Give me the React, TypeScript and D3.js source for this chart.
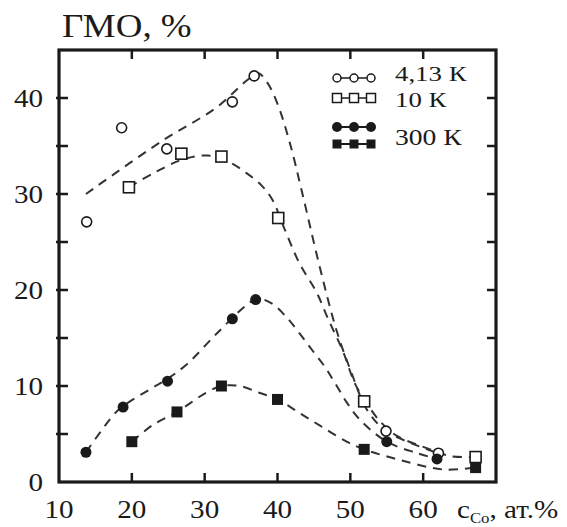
import React from "react";
import * as d3 from "d3";

const W = 567;
const H = 527;

// measured points
const xOpenCircle = [13.8, 18.6, 24.8, 33.8, 36.8, 54.9, 62.1];
const yOpenCircle = [27.1, 36.9, 34.7, 39.6, 42.3, 5.3, 3.0];
const xOpenSquare = [19.6, 26.8, 32.3, 40.1, 51.9, 67.2];
const yOpenSquare = [30.7, 34.2, 33.9, 27.5, 8.4, 2.6];
const xFilledCircle = [13.7, 18.8, 24.9, 33.8, 37.0, 55.0, 61.9];
const yFilledCircle = [3.1, 7.8, 10.5, 17.0, 19.0, 4.2, 2.4];
const xFilledSquare = [20.0, 26.2, 32.3, 40.0, 51.9, 67.2];
const yFilledSquare = [4.2, 7.3, 10.0, 8.6, 3.4, 1.5];

// dashed guide curves
const fit413x = [13.7, 24.1, 31.6, 35.9, 37.3, 38.6, 40.0, 41.7, 43.4, 45.8, 48.1, 50.0, 52.3, 54.9, 58.5, 62.0];
const fit413y = [30.0, 35.5, 39.0, 41.9, 42.6, 41.6, 39.4, 35.3, 30.1, 22.4, 15.8, 11.7, 7.5, 5.3, 4.0, 3.0];
const fit10x = [19.6, 23.3, 27.0, 30.5, 33.4, 35.7, 37.8, 39.3, 41.0, 43.0, 45.4, 47.0, 49.0, 50.6, 51.9, 54.1, 56.4, 60.6, 63.7, 67.2];
const fit10y = [30.7, 32.3, 33.6, 34.0, 33.3, 32.2, 30.9, 29.4, 26.3, 22.8, 19.7, 16.9, 13.6, 10.3, 8.6, 6.3, 4.8, 3.5, 2.7, 2.6];
const fit300cx = [13.7, 17.5, 18.8, 22.8, 24.8, 27.6, 31.7, 35.7, 37.2, 39.2, 41.2, 43.0, 44.8, 46.5, 47.9, 49.5, 51.3, 55.0, 59.2, 61.9];
const fit300cy = [3.1, 7.0, 7.9, 9.8, 10.7, 12.3, 15.5, 18.4, 19.1, 18.6, 17.2, 15.5, 13.7, 12.0, 10.3, 8.3, 6.5, 4.2, 3.0, 2.4];
const fit300sx = [20.0, 22.8, 26.2, 30.2, 32.3, 34.8, 37.5, 40.0, 43.0, 46.2, 49.5, 51.9, 56.8, 62.8, 67.2];
const fit300sy = [4.2, 5.9, 7.3, 9.3, 10.0, 10.0, 9.3, 8.6, 7.2, 5.7, 4.2, 3.4, 2.3, 1.3, 1.5];

const xTickLabels = [10, 20, 30, 40, 50, 60];
const xTicks = [20, 30, 40, 50, 60];
const yTickLabels = [0, 10, 20, 30, 40];
const yTicks = [5, 10, 15, 20, 25, 30, 35, 40];

const legendLabels = ["4,13 К", "10 К", "300 К"];

const FONT = "'Liberation Serif', 'Times New Roman', serif";
const INK = "#1a1a1a";
const SX = 1.12;

function T(props: { x: number; y: number; size: number; sx?: number; anchor?: string; dy?: string; children: React.ReactNode }) {
  return (
    <text
      transform={`translate(${props.x},${props.y}) scale(${props.sx || SX},1)`}
      dy={props.dy}
      textAnchor={props.anchor || "start"}
      fontFamily={FONT}
      fontSize={props.size}
      fill={INK}
    >
      {props.children}
    </text>
  );
}

export default function App() {
  const x = d3.scaleLinear().domain([10, 70]).range([59, 496]);
  const y = d3.scaleLinear().domain([0, 45]).range([482, 50]);
  const line = d3
    .line<[number, number]>()
    .x((d) => x(d[0]))
    .y((d) => y(d[1]))
    .curve(d3.curveCatmullRom.alpha(0.5));
  const zip = (a: number[], b: number[]) => a.map((v, i) => [v, b[i]] as [number, number]);

  const fits = [
    zip(fit413x, fit413y),
    zip(fit10x, fit10y),
    zip(fit300cx, fit300cy),
    zip(fit300sx, fit300sy),
  ];

  const x0 = x(10), x1 = x(70), y0 = y(0), y1 = y(45);

  return (
    <svg width={W} height={H} style={{ position: "absolute", left: 0, top: 0, background: "#fff" }}>
      {fits.map((f, i) => (
        <path key={i} d={line(f) || ""} fill="none" stroke="#333" strokeWidth={2} strokeDasharray="9,7" />
      ))}

      {/* frame */}
      <rect x={x0} y={y1} width={x1 - x0} height={y0 - y1} fill="none" stroke={INK} strokeWidth={3.2} />
      {xTicks.map((t) => (
        <g key={"xt" + t}>
          <line x1={x(t)} x2={x(t)} y1={y0} y2={y0 - 9} stroke={INK} strokeWidth={2.5} />
          <line x1={x(t)} x2={x(t)} y1={y1} y2={y1 + 9} stroke={INK} strokeWidth={2.5} />
        </g>
      ))}
      {yTicks.map((t) => (
        <g key={"yt" + t}>
          <line x1={x0 - 3} x2={x0 + 9} y1={y(t)} y2={y(t)} stroke={INK} strokeWidth={2.5} />
          <line x1={x1} x2={x1 - 9} y1={y(t)} y2={y(t)} stroke={INK} strokeWidth={2.5} />
        </g>
      ))}
      {xTickLabels.map((t) => (
        <T key={"xl" + t} x={x(t)} y={518} size={26} anchor="middle">{t}</T>
      ))}
      {yTickLabels.map((t) => (
        <T key={"yl" + t} x={43} y={y(t)} dy="0.35em" size={26} anchor="end">{t}</T>
      ))}

      <T x={62} y={37} size={33}>ГМО, %</T>
      <T x={457} y={518} size={26}>
        c<tspan fontSize={15} dy={5}>Co</tspan>
        <tspan dy={-5}>, ат.%</tspan>
      </T>

      {/* markers */}
      {xOpenCircle.map((v, i) => (
        <circle key={"oc" + i} cx={x(v)} cy={y(yOpenCircle[i])} r={5} fill="#fff" stroke={INK} strokeWidth={1.6} />
      ))}
      {xOpenSquare.map((v, i) => (
        <rect key={"os" + i} x={x(v) - 5.5} y={y(yOpenSquare[i]) - 5.5} width={11} height={11} fill="#fff" stroke={INK} strokeWidth={1.6} />
      ))}
      {xFilledCircle.map((v, i) => (
        <circle key={"fc" + i} cx={x(v)} cy={y(yFilledCircle[i])} r={5.5} fill={INK} />
      ))}
      {xFilledSquare.map((v, i) => (
        <rect key={"fs" + i} x={x(v) - 5.5} y={y(yFilledSquare[i]) - 5.5} width={11} height={11} fill={INK} />
      ))}

      {/* legend */}
      <g>
        <line x1={337} x2={371} y1={78} y2={78} stroke={INK} strokeWidth={1.5} />
        {[337, 354, 371].map((cx) => (
          <circle key={"lo" + cx} cx={cx} cy={78} r={4} fill="#fff" stroke={INK} strokeWidth={1.5} />
        ))}
        <line x1={337} x2={371} y1={98} y2={98} stroke={INK} strokeWidth={1.5} />
        {[337, 354, 371].map((cx) => (
          <rect key={"ls" + cx} x={cx - 4.5} y={93.5} width={9} height={9} fill="#fff" stroke={INK} strokeWidth={1.5} />
        ))}
        <line x1={337} x2={371} y1={127} y2={127} stroke={INK} strokeWidth={2} />
        {[337, 354, 371].map((cx) => (
          <circle key={"lf" + cx} cx={cx} cy={127} r={5} fill={INK} />
        ))}
        <line x1={337} x2={371} y1={144} y2={144} stroke={INK} strokeWidth={2} />
        {[337, 354, 371].map((cx) => (
          <rect key={"lq" + cx} x={cx - 4.5} y={139.5} width={9} height={9} fill={INK} />
        ))}
        <T x={395} y={81} size={22} sx={1.22}>{legendLabels[0]}</T>
        <T x={395} y={107} size={22} sx={1.22}>{legendLabels[1]}</T>
        <T x={395} y={145} size={23} sx={1.2}>{legendLabels[2]}</T>
      </g>
    </svg>
  );
}
